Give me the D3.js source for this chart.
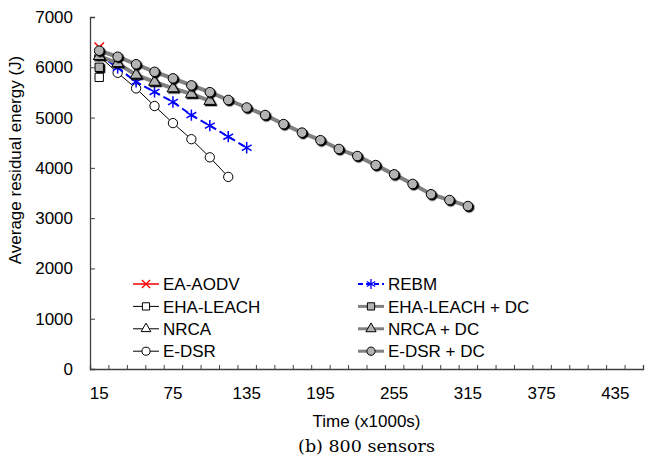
<!DOCTYPE html>
<html>
<head>
<meta charset="UTF-8">
<title>Average residual energy</title>
<script src="https://cdn.jsdelivr.net/npm/d3@7"></script>
<style>
body { margin: 0; background: #fff; }
text { font-family: "Liberation Sans", Arial, sans-serif; fill: #000; }
.caption { font-family: "DejaVu Serif", "Liberation Serif", serif; }
</style>
</head>
<body>
<div id="chart"></div>
<script>
// categories on the x axis (x1000s)
var categories = [15, 30, 45, 60, 75, 90, 105, 120, 135, 150, 165, 180, 195, 210, 225,
                  240, 255, 270, 285, 300, 315, 330, 345, 360, 375, 390, 405, 420, 435, 450];
var xTickLabels = [15, 75, 135, 195, 255, 315, 375, 435];
var yTicks = [0, 1000, 2000, 3000, 4000, 5000, 6000, 7000];

// series values, first value at time 15
var eaAodv = [6400];
var rebm = [6250, 5990, 5710, 5510, 5310, 5050, 4840, 4620, 4400];
var ehaLeach = [5800];
var ehaLeachDc = [6000];
var nrca = [6220];
var nrcaDc = [6220, 6080, 5850, 5710, 5580, 5470, 5330];
var eDsr = [6220, 5890, 5580, 5230, 4890, 4570, 4210, 3820];
var eDsrDc = [6330, 6210, 6060, 5910, 5780, 5640, 5505, 5350, 5200, 5050, 4870,
              4700, 4550, 4375, 4235, 4055, 3870, 3680, 3475, 3360, 3240];

var names = ["EA-AODV", "EHA-LEACH", "NRCA", "E-DSR", "REBM", "EHA-LEACH + DC", "NRCA + DC", "E-DSR + DC"];

var width = 658, height = 463,
    margin = {top: 17, right: 15, bottom: 94, left: 90};
var fs = 17;

// drawing styles per series (same order as names)
var styles = [
  {data: eaAodv, line: "#ff0000", lw: 1.5, dash: null, sym: d3.symbolTimes, size: 60, fill: "none", mstroke: "#ff0000", shadow: false},
  {data: ehaLeach, line: "#000", lw: 1, dash: null, sym: d3.symbolSquare, size: 70, fill: "#fff", mstroke: "#000", shadow: false},
  {data: nrca, line: "#000", lw: 1, dash: null, sym: d3.symbolTriangle, size: 55, fill: "#fff", mstroke: "#000", shadow: false},
  {data: eDsr, line: "#000", lw: 1, dash: null, sym: d3.symbolCircle, size: 68, fill: "#fff", mstroke: "#000", shadow: false},
  {data: rebm, line: "#0000ff", lw: 2, dash: "7,4", sym: d3.symbolAsterisk, size: 90, fill: "none", mstroke: "#0000ff", shadow: false},
  {data: ehaLeachDc, line: "#808080", lw: 4, dash: null, sym: d3.symbolSquare, size: 70, fill: "#b3b3b3", mstroke: "#000", shadow: true},
  {data: nrcaDc, line: "#808080", lw: 4, dash: null, sym: d3.symbolTriangle, size: 60, fill: "#b3b3b3", mstroke: "#000", shadow: true},
  {data: eDsrDc, line: "#808080", lw: 4, dash: null, sym: d3.symbolCircle, size: 72, fill: "#b3b3b3", mstroke: "#000", shadow: true}
];

var svg = d3.select("#chart").append("svg")
  .attr("width", width).attr("height", height);

var defs = svg.append("defs");
var f = defs.append("filter").attr("id", "shadow")
  .attr("x", "-50%").attr("y", "-50%").attr("width", "200%").attr("height", "200%");
f.append("feDropShadow").attr("dx", 1.3).attr("dy", 1.3).attr("stdDeviation", 0.4)
  .attr("flood-color", "#000").attr("flood-opacity", 1);

var x = d3.scaleBand()
  .domain(categories)
  .range([margin.left, width - margin.right])
  .padding(0);
var xEdge = d3.scaleLinear()
  .domain([0, categories.length])
  .range([margin.left, width - margin.right]);
var y = d3.scaleLinear()
  .domain([0, 7000])
  .range([height - margin.bottom, margin.top]);

function cx(i) { return x(categories[i]) + x.bandwidth() / 2; }

// x axis: small inside ticks at category edges
svg.append("g")
  .attr("transform", "translate(0," + (height - margin.bottom) + ")")
  .call(d3.axisBottom(xEdge).tickValues(d3.range(0, categories.length + 1)).tickSize(-4).tickFormat(""))
  .call(function(g) {
    g.select(".domain").attr("stroke", "#404040").attr("stroke-width", 1.3);
    g.selectAll(".tick line").attr("stroke", "#404040");
  });
// x labels
svg.append("g")
  .attr("transform", "translate(0," + (height - margin.bottom) + ")")
  .call(d3.axisBottom(x).tickValues(xTickLabels).tickSize(0).tickPadding(18))
  .call(function(g) {
    g.select(".domain").remove();
    g.selectAll("text").attr("font-size", fs).attr("font-family", "Liberation Sans, Arial, sans-serif");
  });

// y axis
svg.append("g")
  .attr("transform", "translate(" + margin.left + ",0)")
  .call(d3.axisLeft(y).tickValues(yTicks).tickSize(-5).tickPadding(17).tickFormat(d3.format("d")))
  .call(function(g) {
    g.select(".domain").attr("stroke", "#404040").attr("stroke-width", 1.3);
    g.selectAll(".tick line").attr("stroke", "#404040");
    g.selectAll("text").attr("font-size", fs).attr("font-family", "Liberation Sans, Arial, sans-serif");
  });

// series
var line = d3.line()
  .x(function(d, i) { return cx(i); })
  .y(function(d) { return y(d); });

styles.forEach(function(s) {
  var g = svg.append("g");
  g.append("path")
    .datum(s.data)
    .attr("d", line)
    .attr("fill", "none")
    .attr("stroke", s.line)
    .attr("stroke-width", s.lw)
    .attr("stroke-dasharray", s.dash);
  g.selectAll(".pt")
    .data(s.data)
    .enter().append("path")
    .attr("class", "pt")
    .attr("transform", function(d, i) { return "translate(" + cx(i) + "," + y(d) + ")"; })
    .attr("d", d3.symbol().type(s.sym).size(s.size))
    .attr("fill", s.fill)
    .attr("stroke", s.mstroke)
    .attr("stroke-width", s.fill === "none" ? 1.5 : 1)
    .attr("filter", s.shadow ? "url(#shadow)" : null);
});

// legend, two columns
var legendOrder = [0, 4, 1, 5, 2, 6, 3, 7];
legendOrder.forEach(function(k, j) {
  var s = styles[k];
  var col = j % 2, row = Math.floor(j / 2);
  var lx = col === 0 ? 133 : 358;
  var ly = 284 + row * 22.4;
  var lg = svg.append("g").attr("transform", "translate(" + lx + "," + ly + ")");
  lg.append("line")
    .attr("x1", 0).attr("x2", 26).attr("y1", 0).attr("y2", 0)
    .attr("stroke", s.line)
    .attr("stroke-width", s.lw === 4 ? 3 : s.lw)
    .attr("stroke-dasharray", s.dash ? "5,3" : null);
  lg.append("path")
    .attr("transform", "translate(13,0)")
    .attr("d", d3.symbol().type(s.sym).size(s.size * 0.75))
    .attr("fill", s.fill)
    .attr("stroke", s.mstroke)
    .attr("stroke-width", s.fill === "none" ? 1.3 : 1);
  lg.append("text")
    .attr("x", 30).attr("y", 0).attr("dy", "0.36em")
    .attr("font-size", fs)
    .text(names[k]);
});

// titles
svg.append("text")
  .attr("transform", "translate(21," + 160 + ") rotate(-90)")
  .attr("text-anchor", "middle")
  .attr("font-size", fs)
  .text("Average residual energy (J)");
svg.append("text")
  .attr("x", (margin.left + width - margin.right) / 2)
  .attr("y", 427)
  .attr("text-anchor", "middle")
  .attr("font-size", fs)
  .text("Time (x1000s)");
svg.append("text")
  .attr("class", "caption")
  .attr("x", (margin.left + width - margin.right) / 2)
  .attr("y", 452)
  .attr("text-anchor", "middle")
  .attr("font-size", 17.5)
  .text("(b) 800 sensors");
</script>
</body>
</html>
